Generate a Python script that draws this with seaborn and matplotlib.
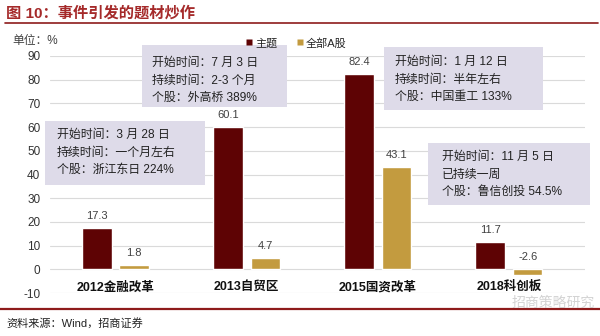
import matplotlib
matplotlib.use("Agg")
import matplotlib.pyplot as plt
import seaborn as sns
import pandas as pd
from matplotlib.patches import Rectangle
from matplotlib.lines import Line2D

# ---------------- data ----------------
categories = ["2012金融改革", "2013自贸区", "2015国资改革", "2018科创板"]
theme_vals = [17.3, 60.1, 82.4, 11.7]
all_a_vals = [1.8, 4.7, 43.1, -2.6]
series_names = ["主题", "全部A股"]
y_ticks = [-10, 0, 10, 20, 30, 40, 50, 60, 70, 80, 90]
box_texts = [
    "开始时间：3 月 28 日\n持续时间：一个月左右\n个股：浙江东日 224%",
    "开始时间：7 月 3 日\n持续时间：2-3 个月\n个股：外高桥 389%",
    "开始时间：1 月 12 日\n持续时间：半年左右\n个股：中国重工 133%",
    "开始时间：11 月 5 日\n已持续一周\n个股：鲁信创投 54.5%",
]
title_text = "图 10：事件引发的题材炒作"
unit_text = "单位：%"
source_text = "资料来源：Wind，招商证券"
watermark_text = "招商策略研究"

df = pd.DataFrame({
    "cat": categories * 2,
    "val": theme_vals + all_a_vals,
    "series": [series_names[0]] * 4 + [series_names[1]] * 4,
})

# ---------------- style ----------------
sns.set_theme(style="white")
plt.rcParams["font.family"] = ["Liberation Sans", "Noto Sans CJK SC", "DejaVu Sans"]

RED = "#5E0304"
GOLD = "#C39B3F"
BOX = "#DEDBE9"
DARKRED = "#8E1B1B"
TXT = "#333333"

W, H = 600, 336
fig = plt.figure(figsize=(6, 3.36), dpi=100)
fig.patch.set_facecolor("white")

def fx(x):
    return x / W

def fy(y):
    return 1 - y / H

ax = fig.add_axes([fx(50), fy(293), fx(585) - fx(50), fy(56) - fy(293)])

sns.barplot(data=df, x="cat", y="val", hue="series", hue_order=series_names,
            palette=[RED, GOLD], width=0.57, gap=0.21, saturation=1,
            legend=False, ax=ax, zorder=3)

ax.set_ylim(-10, 90)
ax.set_xlim(-0.5, 3.58)
ax.set_yticks(y_ticks)
ax.set_yticklabels([str(t) for t in y_ticks], fontsize=8.5, color=TXT)
ax.yaxis.grid(True, color="#DADADA", linewidth=0.8, zorder=0)
ax.set_axisbelow(True)
for s in ax.spines.values():
    s.set_visible(False)
ax.tick_params(axis="y", length=0, pad=7)
ax.set_xlabel("")
ax.set_ylabel("")

# x labels near the zero line
ax.set_xticks([])
for i, c in enumerate(categories):
    ax.annotate(c, xy=(i, 0), xytext=(0, -13), textcoords="offset points",
                ha="center", va="center", fontsize=9, fontweight="bold",
                color="#111111")

# value labels from the bars drawn by seaborn
for p in ax.patches:
    h = p.get_height()
    x = p.get_x() + p.get_width() / 2
    ax.annotate(f"{h:.1f}", xy=(x, max(h, 0)), xytext=(0, 8.5),
                textcoords="offset points", ha="center", va="center",
                fontsize=8, color="#404040")

# ---------------- annotation boxes ----------------
boxes = [
    (45, 121, 205, 185, 57, 135),
    (142, 45, 287, 107, 152, 63),
    (384, 47, 543, 110, 395, 62),
    (428, 143, 590, 205, 442, 157),
]
for (x0, y0, x1, y1, tx, ty), t in zip(boxes, box_texts):
    fig.patches.append(Rectangle((fx(x0), fy(y1)), fx(x1) - fx(x0), fy(y0) - fy(y1),
                                 transform=fig.transFigure, facecolor=BOX,
                                 edgecolor="none", zorder=2))
    for k, line in enumerate(t.split("\n")):
        fig.text(fx(tx), fy(ty + k * 17.5), line, ha="left", va="center",
                 fontsize=8.6, color="#222222", zorder=4)

# ---------------- legend ----------------
handles = [Line2D([], [], marker="s", linestyle="none", markersize=5,
                  markerfacecolor=col, markeredgecolor="none")
           for col in (RED, GOLD)]
fig.legend(handles, series_names, loc="center left",
           bbox_to_anchor=(fx(245), fy(43)), ncol=2, frameon=False,
           fontsize=8, handletextpad=0.15, handlelength=0.8,
           columnspacing=1.6, borderaxespad=0, borderpad=0)

# ---------------- title / footer ----------------
fig.text(fx(6), fy(13), title_text, ha="left", va="center", fontsize=11,
         fontweight="bold", color="#A52A2A")
fig.add_artist(Line2D([fx(5), fx(598)], [fy(23), fy(23)], color=DARKRED,
                      linewidth=1.2, transform=fig.transFigure))
fig.text(fx(12), fy(41), unit_text, ha="left", va="center", fontsize=8.5,
         color="#404040")
fig.add_artist(Line2D([0, 1], [fy(309), fy(309)], color=DARKRED,
                      linewidth=1.6, transform=fig.transFigure))
fig.text(fx(6), fy(323), source_text, ha="left", va="center", fontsize=8,
         color="#222222")
fig.text(fx(595), fy(303), watermark_text, ha="right", va="center",
         fontsize=10, color="#C8C8C8", alpha=0.8)

fig.savefig("out.png", dpi=100, facecolor="white")
